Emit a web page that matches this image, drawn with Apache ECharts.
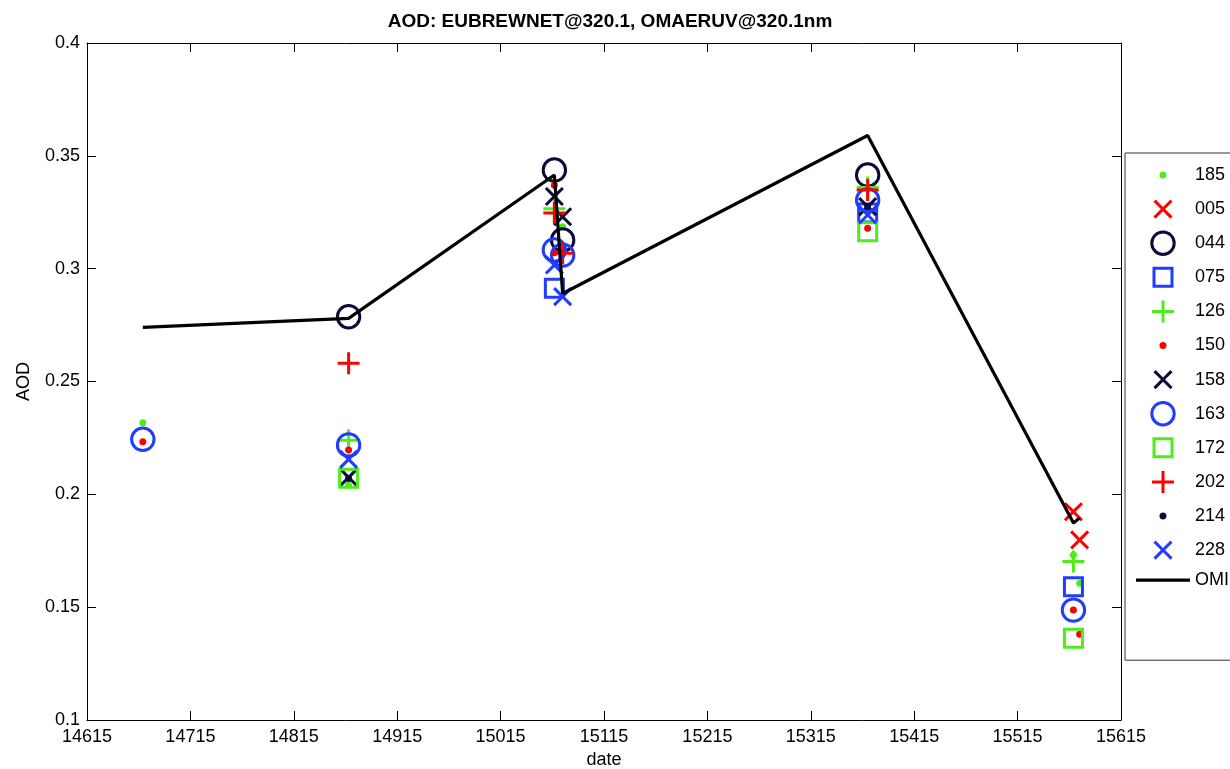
<!DOCTYPE html>
<html>
<head>
<meta charset="utf-8">
<script src="https://cdn.jsdelivr.net/npm/echarts@6/dist/echarts.min.js"></script>
<style>
  html, body { margin: 0; padding: 0; background: #fff; }
  #chart { width: 1230px; height: 769px; }
</style>
</head>
<body>
<div id="chart"></div>
<script>
// OMI (OMAERUV) overpass values, drawn as a line
const omiDates = [14669, 14868, 15067, 15075, 15370, 15569, 15575];
const omiAod = [0.274, 0.278, 0.3415, 0.289, 0.359, 0.1873, 0.1895];

// EUBREWNET stations: [date, AOD]
const st185 = [[14669, 0.2317], [14868, 0.204], [15075, 0.3186], [15569, 0.1731], [15575, 0.1606]];
const st005 = [[15569, 0.1923], [15575, 0.1798]];
const st044 = [[14868, 0.2787], [15067, 0.3437], [15075, 0.3127], [15370, 0.3415]];
const st075 = [[15067, 0.2913], [15370, 0.3247], [15569, 0.1591]];
const st126 = [[14868, 0.224], [15067, 0.3265], [15370, 0.336], [15569, 0.1702]];
const st150 = [[14669, 0.2233], [14868, 0.2197], [15067, 0.337], [15067, 0.307], [15370, 0.3179], [15569, 0.1487], [15575, 0.138]];
const st158 = [[14868, 0.2075], [15067, 0.332], [15075, 0.323], [15370, 0.3275]];
const st163 = [[14669, 0.2244], [14868, 0.2219], [15067, 0.3083], [15075, 0.306], [15370, 0.3304], [15569, 0.1487]];
const st172 = [[14868, 0.2071], [15370, 0.3164], [15569, 0.1362]];
const st202 = [[14868, 0.2581], [15067, 0.3247], [15075, 0.3068], [15370, 0.3349]];
const st214 = [[14868, 0.207], [15370, 0.3275]];
const st228 = [[14868, 0.2155], [15067, 0.3016], [15075, 0.2876], [15370, 0.3238]];

const GREEN = "#4ded1a";
const RED = "#ff0000";
const NAVY = "#0a0c38";
const BLUE = "#1f3cff";

// marker shapes, all on the same 26x26 box so series and legend scale alike
const PAD = "M0,0M26,26";
const DOT = "path://" + PAD + "M13,9.5A3.5,3.5,0,1,1,12.99,9.5Z";
const RING = "path://" + PAD + "M13,0.3A12.7,12.7,0,1,1,12.99,0.3Z M13,3.3A9.7,9.7,0,1,0,13.01,3.3Z";
const SQUARE = "path://" + PAD + "M2.5,2.5H23.5V23.5H2.5Z M5.5,5.5V20.5H20.5V5.5Z";
const PLUS = "path://" + PAD + "M11.5,2H14.5V11.5H24V14.5H14.5V24H11.5V14.5H2V11.5H11.5Z";
const CROSS = "path://" + PAD +
  "M3.45,20.43L5.58,22.55L13,15.12L20.43,22.55L22.55,20.43L15.12,13L22.55,5.58L20.43,3.45L13,10.88L5.58,3.45L3.45,5.58L10.88,13Z";
const LINE_ICON = "path://M0,0H54V3.2H0Z";

const stations = [
  { name: "185", data: st185, symbol: DOT, color: GREEN },
  { name: "005", data: st005, symbol: CROSS, color: RED },
  { name: "044", data: st044, symbol: RING, color: NAVY },
  { name: "075", data: st075, symbol: SQUARE, color: BLUE },
  { name: "126", data: st126, symbol: PLUS, color: GREEN },
  { name: "150", data: st150, symbol: DOT, color: RED },
  { name: "158", data: st158, symbol: CROSS, color: NAVY },
  { name: "163", data: st163, symbol: RING, color: BLUE },
  { name: "172", data: st172, symbol: SQUARE, color: GREEN },
  { name: "202", data: st202, symbol: PLUS, color: RED },
  { name: "214", data: st214, symbol: DOT, color: NAVY },
  { name: "228", data: st228, symbol: CROSS, color: BLUE },
];

const chart = echarts.init(document.getElementById("chart"), null, { renderer: "canvas" });

const axisFont = { fontFamily: "Liberation Sans, Arial, sans-serif", fontSize: 18, color: "#000" };
const frameLine = { show: true, onZero: false, lineStyle: { color: "#000", width: 1 } };
const inTick = { show: true, inside: true, length: 9, lineStyle: { color: "#000", width: 1 } };

const series = stations.map((s) => ({
  name: s.name,
  type: "scatter",
  data: s.data,
  symbol: s.symbol,
  symbolSize: 26,
  symbolKeepAspect: true,
  itemStyle: { color: s.color, opacity: 1 },
  emphasis: { disabled: true },
}));

series.push({
  name: "OMI",
  type: "line",
  data: omiDates.map((d, i) => [d, omiAod[i]]),
  symbol: "none",
  showSymbol: false,
  lineStyle: { color: "#000", width: 3.2 },
  itemStyle: { color: "#000" },
  emphasis: { disabled: true },
  z: 3,
});

const legendData = stations.map((s) => ({ name: s.name }));
legendData.push({ name: "OMI", icon: LINE_ICON, itemStyle: { color: "#000" } });

const option = {
  animation: false,
  backgroundColor: "#fff",
  title: {
    text: "AOD: EUBREWNET@320.1, OMAERUV@320.1nm",
    left: 605,
    top: 7,
    textAlign: "center",
    textStyle: { fontFamily: "Liberation Sans, Arial, sans-serif", fontSize: 19, fontWeight: "bold", color: "#000" },
  },
  grid: { left: 87, top: 43, right: 109, bottom: 49, containLabel: false, outerBoundsMode: "none" },
  legend: {
    orient: "vertical",
    left: 1125,
    top: 153,
    padding: [9, 60, 71, 11],
    itemWidth: 54,
    itemHeight: 26,
    itemGap: 8.1,
    backgroundColor: "#fff",
    borderColor: "#333",
    borderWidth: 1,
    selectedMode: false,
    textStyle: axisFont,
    data: legendData,
  },
  xAxis: [
    {
      type: "value",
      position: "bottom",
      min: 14615,
      max: 15615,
      interval: 100,
      name: "date",
      nameLocation: "middle",
      nameGap: 31,
      nameTextStyle: axisFont,
      axisLine: frameLine,
      axisTick: inTick,
      axisLabel: { ...axisFont, margin: 8, formatter: (v) => String(v) },
      splitLine: { show: false },
    },
    {
      type: "value",
      position: "top",
      min: 14615,
      max: 15615,
      interval: 100,
      axisLine: frameLine,
      axisTick: inTick,
      axisLabel: { show: false },
      splitLine: { show: false },
    },
  ],
  yAxis: [
    {
      type: "value",
      position: "left",
      min: 0.1,
      max: 0.4,
      interval: 0.05,
      name: "AOD",
      nameLocation: "middle",
      nameGap: 54,
      nameTextStyle: axisFont,
      axisLine: frameLine,
      axisTick: inTick,
      axisLabel: { ...axisFont, margin: 7 },
      splitLine: { show: false },
    },
    {
      type: "value",
      position: "right",
      min: 0.1,
      max: 0.4,
      interval: 0.05,
      axisLine: frameLine,
      axisTick: inTick,
      axisLabel: { show: false },
      splitLine: { show: false },
    },
  ],
  tooltip: { show: false },
  series: series,
};

chart.setOption(option);
</script>
</body>
</html>
